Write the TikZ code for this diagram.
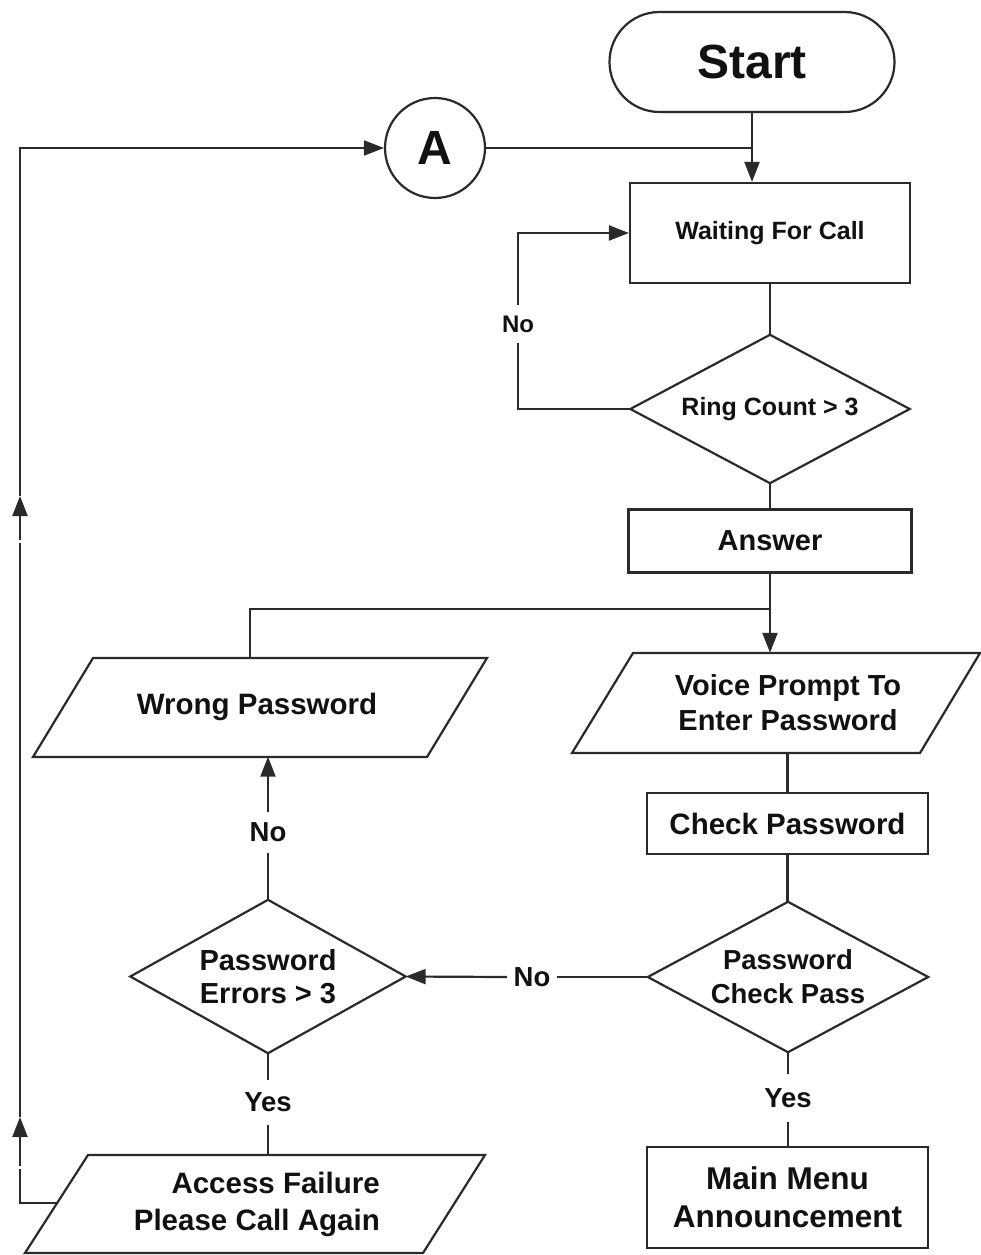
\documentclass[tikz,border=0pt]{standalone}
\usepackage{fontspec}
\setmainfont{Liberation Sans}
\usetikzlibrary{arrows.meta,calc}
\definecolor{lncol}{HTML}{2A2A2A}
\definecolor{txcol}{HTML}{111111}
\newcommand\fsz[2]{\fontsize{#1}{#2}\selectfont\bfseries}
\tikzset{
 ln/.style={draw=lncol,line width=2.2pt},
 arr/.style={ln,-{Triangle[length=20pt,width=15pt]}},
 box/.style={draw=lncol,line width=2.2pt,rectangle,inner sep=0pt,text=txcol,align=center},
 hold/.style={rectangle,inner sep=0pt,text=txcol,align=center},
 lbl/.style={rectangle,inner sep=0pt,text=txcol,font=\fsz{27.5}{30}},
}
\begin{document}
\begin{tikzpicture}[x=1pt,y=-1pt]
\useasboundingbox (0,0) rectangle (981,1255);
% nodes
\node[box,rounded corners=50pt,minimum width=285pt,minimum height=100pt,font=\fsz{48}{56}] (start) at (752,62) {Start};
\node[box,circle,minimum size=100pt,font=\fsz{48}{56}] (A) at (435,148) {A};
\node[box,minimum width=280pt,minimum height=100pt,font=\fsz{25}{30}] (wait) at (770,233) {Waiting For Call};
\node[hold,minimum width=279pt,minimum height=148pt,font=\fsz{25}{30}] (ring) at (770,409) {Ring Count > 3};
\draw[ln] (ring.north) -- (ring.east) -- (ring.south) -- (ring.west) -- cycle;
\node[box,minimum width=283pt,minimum height=63pt,font=\fsz{29}{34}] (ans) at (770,541) {Answer};
\node[hold,minimum width=300pt,minimum height=100pt,font=\fsz{29}{35}] (voice) at (788,703) {Voice Prompt To\\Enter Password};
\draw[ln] (633,653) -- (980,653) -- (920,753) -- (572,753) -- cycle;
\node[box,minimum width=281pt,minimum height=61pt,font=\fsz{29.5}{34}] (check) at (787.5,823.5) {Check Password};
\node[hold,minimum width=280pt,minimum height=150pt,font=\fsz{27.5}{34}] (pcp) at (788,977) {Password\\Check Pass};
\draw[ln] (pcp.north) -- (pcp.east) -- (pcp.south) -- (pcp.west) -- cycle;
\node[box,minimum width=281pt,minimum height=101pt,font=\fsz{31.5}{38}] (menu) at (787.5,1197.5) {Main Menu\\Announcement};
\node[hold,minimum width=275pt,minimum height=153pt,font=\fsz{29}{33}] (pe) at (268,976.5) {Password\\Errors > 3};
\draw[ln] (pe.north) -- (pe.east) -- (pe.south) -- (pe.west) -- cycle;
\node[hold,minimum height=99pt,font=\fsz{29.5}{34}] (wrong) at (257,707) {Wrong Password};
\draw[ln] (93,658) -- (487,658) -- (427,757) -- (33,757) -- cycle;
\node[hold,align=right,anchor=east,minimum height=98pt,font=\fsz{29.5}{37}] (access) at (380,1204) {Access Failure\\Please Call Again};
\draw[ln] (88,1155) -- (485,1155) -- (423,1253) -- (25,1253) -- cycle;
% labels
\node[lbl,font=\fsz{24}{28},minimum height=38pt] (noring) at (518,324) {No};
\node[lbl,minimum width=50pt] (nopc) at (532,977) {No};
\node[lbl,minimum height=41pt] (nope) at (268,832.5) {No};
\node[lbl,minimum height=45pt] (yespe) at (268,1102.5) {Yes};
\node[lbl,minimum height=48pt] (yespc) at (788,1098) {Yes};
% coordinates
\coordinate (j1) at (770,609);
\coordinate (accL) at (57,1203);
\coordinate (c1) at (20,1203);
\coordinate (c2) at (20,1169);
\coordinate (c3) at (20,1166);
\coordinate (c4) at (20,1117);
\coordinate (c5) at (20,543);
\coordinate (c6) at (20,540);
\coordinate (c7) at (20,496);
% connectors
\draw[arr] (start.south) -- (start.south |- wait.north);
\draw[ln] (A.east) -- (A.east -| start.south);
\draw[ln] (wait.south) -- (ring.north);
\draw[ln] (ring.south) -- (ans.north);
\draw[ln] (ring.west) -| (noring.south);
\draw[arr] (noring.north) |- (wait.west);
\draw[arr] (ans.south) -- (ans.south |- voice.north);
\draw[ln] ([xshift=-7pt]wrong.north) |- (j1);
\draw[ln] (voice.south -| check.north) -- (check.north);
\draw[ln] (check.south) -- (check.south |- pcp.north);
\draw[ln] (pcp.west) -- (nopc.east);
\draw[arr] (nopc.west) -- (pe.east);
\draw[ln] (pcp.south) -- (yespc.north);
\draw[ln] (yespc.south) -- (yespc.south |- menu.north);
\draw[ln] (pe.north) -- (nope.south);
\draw[arr] (nope.north) -- (nope.north |- wrong.south);
\draw[ln] (pe.south) -- (yespe.north);
\draw[ln] (yespe.south) -- (yespe.south |- access.north);
\draw[ln] (accL) -- (c1) -- (c2);
\draw[arr] (c3) -- (c4);
\draw[ln] (c4) -- (c5);
\draw[arr] (c6) -- (c7);
\draw[arr] (c7) |- (A.west);
\end{tikzpicture}
\end{document}
